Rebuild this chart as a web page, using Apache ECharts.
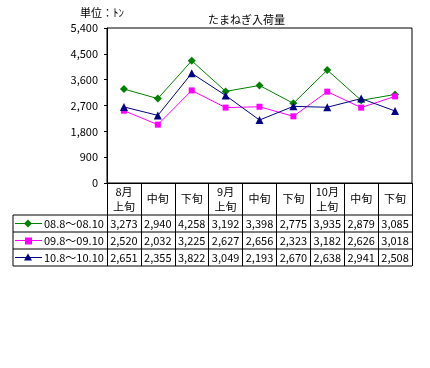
<!DOCTYPE html>
<html><head><meta charset="utf-8">
<script src="https://cdn.jsdelivr.net/npm/echarts@6/dist/echarts.min.js"></script>
<style>html,body{margin:0;padding:0;background:#fff}#c{width:430px;height:368px}</style>
</head><body><div id="c"></div>
<script>
var categories = ['8月\n上旬','中旬','下旬','9月\n上旬','中旬','下旬','10月\n上旬','中旬','下旬'];
var seriesNames = ['08.8～08.10','09.8～09.10','10.8～10.10'];
var s0808 = [3273,2940,4258,3192,3398,2775,3935,2879,3085];
var s0909 = [2520,2032,3225,2627,2656,2323,3182,2626,3018];
var s1010 = [2651,2355,3822,3049,2193,2670,2638,2941,2508];
var yTicks = [0,900,1800,2700,3600,4500,5400];

var colors = ['#008000','#FF00FF','#000080'];
var symbols = ['diamond','rect','triangle'];
var values = [s0808,s0909,s1010];
var font = '"Noto Sans CJK JP", sans-serif';

var L=107, R=412, T=28, B=183;
var tableLeft=13, headerBottom=215, rowH=17;
var bw=(R-L)/categories.length;

var chart = echarts.init(document.getElementById('c'));
var graphics = [];
graphics.push({type:'text', left:80, top:7, style:{text:'単位：ﾄﾝ', font:'11px '+font, fill:'#000'}});
for (var r=0;r<=3;r++){
  var y=headerBottom+r*rowH;
  graphics.push({type:'line', shape:{x1:tableLeft,y1:y,x2:R,y2:y}, style:{stroke:'#000',lineWidth:1}});
}
graphics.push({type:'line', shape:{x1:tableLeft,y1:headerBottom,x2:tableLeft,y2:headerBottom+3*rowH}, style:{stroke:'#000',lineWidth:1}});
for (var s=0;s<3;s++){
  var cy=headerBottom+s*rowH+rowH/2;
  graphics.push({type:'line', shape:{x1:15,y1:cy,x2:42,y2:cy}, style:{stroke:colors[s],lineWidth:1}});
  if(symbols[s]==='diamond') graphics.push({type:'polygon', shape:{points:[[28,cy-4],[32,cy],[28,cy+4],[24,cy]]}, style:{fill:colors[s]}});
  else if(symbols[s]==='rect') graphics.push({type:'rect', shape:{x:25,y:cy-3,width:7,height:7}, style:{fill:colors[s]}});
  else graphics.push({type:'polygon', shape:{points:[[28,cy-4],[32,cy+3],[24,cy+3]]}, style:{fill:colors[s]}});
  graphics.push({type:'text', x:44, y:cy, style:{text:seriesNames[s], font:'11px '+font, fill:'#000', textVerticalAlign:'middle'}});
  for (var i=0;i<categories.length;i++){
    graphics.push({type:'text', x:L+(i+0.5)*bw, y:cy, style:{text:values[s][i].toLocaleString('en-US'), font:'11px '+font, fill:'#000', textAlign:'center', textVerticalAlign:'middle'}});
  }
}

chart.setOption({
  animation:false,
  title:{text:'たまねぎ入荷量', left:203, top:9, textStyle:{fontSize:11, fontWeight:'normal', color:'#000', fontFamily:'Noto Sans CJK JP'}},
  grid:{left:L, right:430-R, top:T, bottom:368-B, show:true, borderColor:'#000', borderWidth:1},
  xAxis:{type:'category', data:categories, boundaryGap:true,
    axisLine:{show:true, lineStyle:{color:'#000'}},
    axisTick:{show:true, interval:0, length:83, lineStyle:{color:'#000'}},
    axisLabel:{interval:0, margin:16, verticalAlign:'middle', fontSize:11, color:'#000', fontFamily:'Noto Sans CJK JP', lineHeight:15}},
  yAxis:{type:'value', min:yTicks[0], max:yTicks[yTicks.length-1], interval:900,
    axisLine:{show:true, lineStyle:{color:'#000'}},
    axisTick:{show:true, length:3, lineStyle:{color:'#000'}},
    splitLine:{show:false},
    axisLabel:{fontSize:11, color:'#000', margin:9, fontFamily:'Noto Sans CJK JP', formatter:function(v){return v.toLocaleString('en-US');}}},
  series: values.map(function(d,s){return {type:'line', name:seriesNames[s], data:d, symbol:symbols[s], symbolSize:symbols[s]==='rect'?6:8,
    lineStyle:{color:colors[s], width:1}, itemStyle:{color:colors[s]}};}),
  graphic:graphics
});
</script></body></html>
